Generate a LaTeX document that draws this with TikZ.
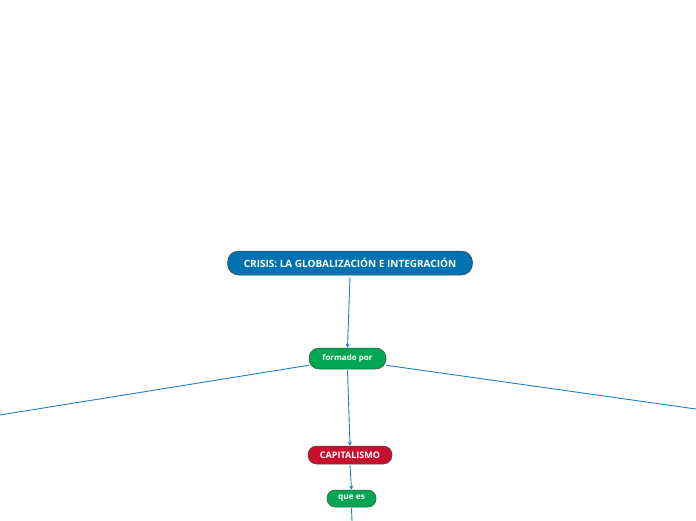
\documentclass[tikz,border=0pt]{standalone}
\usepackage{fontspec}
\setmainfont{Open Sans}
\usetikzlibrary{arrows.meta}
\definecolor{rootblue}{RGB}{0,114,178}
\definecolor{mmgreen}{RGB}{0,166,81}
\definecolor{mmred}{RGB}{200,16,46}
\definecolor{linkblue}{RGB}{30,128,192}
\begin{document}
\begin{tikzpicture}[x=1pt,y=-1pt,
  topic/.style={draw=black!70,line width=0.5pt,rounded corners=9pt,text=white,font=\bfseries,inner sep=0pt,align=center},
  link/.style={draw=linkblue,line width=0.9pt},
  arr/.style={link,-{Stealth[length=4pt,width=4pt]}}]
\useasboundingbox (0,0) rectangle (696,520);
\fill[white] (0,0) rectangle (696,520);
\node[topic,fill=rootblue,minimum width=245pt,minimum height=24pt,rounded corners=11pt,font=\bfseries\fontsize{10}{12}\selectfont] (root) at (350,263) {CRISIS: LA GLOBALIZACIÓN E INTEGRACIÓN};
\node[topic,fill=mmgreen,minimum width=77pt,minimum height=21pt,rounded corners=10pt,font=\bfseries\fontsize{8}{10}\selectfont] (form) at (347.5,358.5) {formado por};
\node[topic,fill=mmred,minimum width=84pt,minimum height=18pt,rounded corners=8.5pt,font=\bfseries\fontsize{9}{11}\selectfont] (cap) at (350,455) {CAPITALISMO};
\node[topic,fill=mmgreen,minimum width=49pt,minimum height=17pt,rounded corners=8pt,font=\bfseries\fontsize{8.3}{10}\selectfont] (que) at (351.5,498.5) {que es};
\coordinate (L) at (0,415);
\coordinate (R) at (696,409);
\coordinate (B) at (352,521);
\draw[arr] (root.south) ++(0,2) -- (form.north);
\draw[arr] (form.south) ++(0,1) -- (cap.north);
\draw[arr] (cap.south) ++(0,1) -- (que.north);
\draw[link] (que.south) ++(0,1) -- (B);
\draw[link] (form.south west) ++(0,-4) -- (L);
\draw[link] (form.south east) ++(0,-4) -- (R);
\end{tikzpicture}
\end{document}
